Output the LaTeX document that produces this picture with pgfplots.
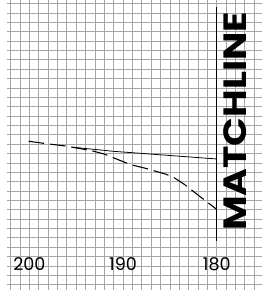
\documentclass[border=0pt]{standalone}
\usepackage{pgfplots}
\pgfplotsset{compat=1.18}
\usepackage{fontspec}
\setmainfont{Poppins}
\begin{document}
\begin{tikzpicture}
\begin{axis}[
  scale only axis,
  width=262pt, height=297pt,
  x dir=reverse,
  xmin=175.125, xmax=202.417,
  ymin=-0.594, ymax=30.34,
  xtick={176,...,202}, ytick={0,...,30},
  xticklabels={}, yticklabels={},
  major tick length=0pt,
  grid=major,
  grid style={draw=gray!70, line width=0.8pt},
  axis line style={draw=none},
  clip=false,
]
% matchline
\addplot[black, line width=1.3pt] coordinates {(180,4.65) (180,29.65)};
% solid line
\addplot[black, line width=0.8pt] coordinates {(195.33,14.67) (190.96,14.23) (180.02,13.42)};
% dashed line
\addplot[black, line width=1.1pt, dash pattern=on 16pt off 6pt] coordinates {
(200.07,15.31) (198.25,15.06) (196.06,14.79) (193.35,14.30) (192.0,13.94)
(189.19,12.81) (187.63,12.43) (185.44,11.80) (184.5,11.39) (183.46,10.71)
(181.69,9.33) (180.02,8.05)};
\node[rotate=90, font=\fontsize{33}{33}\selectfont\bfseries, inner sep=0pt] at (axis cs:178.09,17.43) {\scalebox{1.17}[1]{MATCHLINE}};
\node[font=\fontsize{18}{18}\selectfont, inner sep=0pt] at (axis cs:200,2.22) {200};
\node[font=\fontsize{18}{18}\selectfont, inner sep=0pt] at (axis cs:190,2.22) {190};
\node[font=\fontsize{18}{18}\selectfont, inner sep=0pt] at (axis cs:180,2.22) {180};
\end{axis}
\end{tikzpicture}
\end{document}
